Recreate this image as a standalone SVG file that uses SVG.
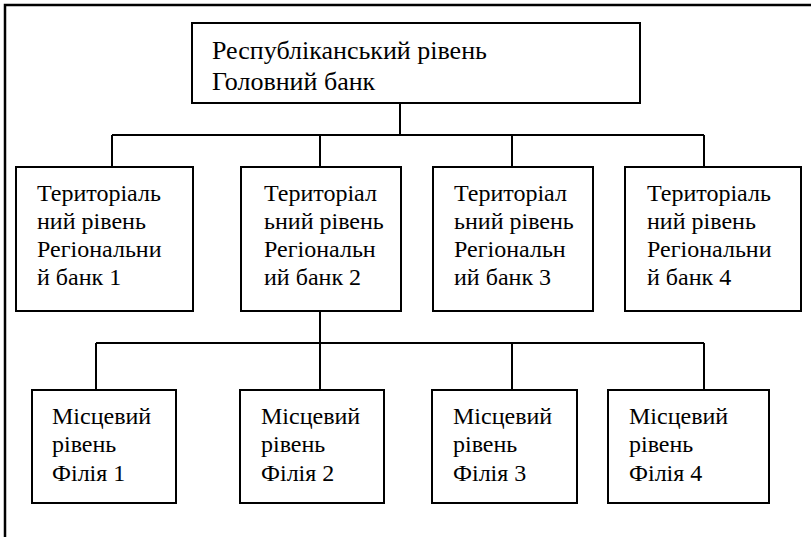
<svg xmlns="http://www.w3.org/2000/svg" width="811" height="537" viewBox="0 0 811 537">
  <style>
    .box { fill: #fff; stroke: #000; stroke-width: 2; }
    .frame { fill: none; stroke: #000; stroke-width: 2.5; }
    .link { fill: none; stroke: #000; stroke-width: 2; }
    text { font-family: "Liberation Serif", "Times New Roman", serif; font-size: 24px; fill: #000; }
    .top { font-size: 26px; }
  </style>
  <rect width="811" height="537" fill="#fff"/>
  <!-- open frame: top and left edges only -->
  <path class="frame" d="M5,537 V5 H811"/>

  <g id="connectors">
    <path class="link" d="M400,103 V135 M112,135 H704 M112,135 V167 M320,135 V167 M512,135 V167 M704,135 V167"/>
    <path class="link" d="M320,311 V390 M96,343 H704 M96,343 V390 M512,343 V390 M704,343 V390"/>
  </g>

  <g id="head-bank">
    <rect class="box" x="192" y="23" width="448" height="80"/>
    <text class="top" x="212" y="59">Республіканський рівень</text>
    <text class="top" x="212" y="90">Головний банк</text>
  </g>

  <g id="regional-1">
    <rect class="box" x="16" y="167" width="177" height="144"/>
    <text x="37" y="201">Територіаль</text>
    <text x="37" y="229">ний рівень</text>
    <text x="37" y="257">Регіональни</text>
    <text x="37" y="285">й банк 1</text>
  </g>
  <g id="regional-2">
    <rect class="box" x="241" y="167" width="160" height="144"/>
    <text x="264" y="201">Територіал</text>
    <text x="264" y="229">ьний рівень</text>
    <text x="264" y="257">Регіональн</text>
    <text x="264" y="285">ий банк 2</text>
  </g>
  <g id="regional-3">
    <rect class="box" x="433" y="167" width="160" height="144"/>
    <text x="454" y="201">Територіал</text>
    <text x="454" y="229">ьний рівень</text>
    <text x="454" y="257">Регіональн</text>
    <text x="454" y="285">ий банк 3</text>
  </g>
  <g id="regional-4">
    <rect class="box" x="625" y="167" width="176" height="144"/>
    <text x="647" y="201">Територіаль</text>
    <text x="647" y="229">ний рівень</text>
    <text x="647" y="257">Регіональни</text>
    <text x="647" y="285">й банк 4</text>
  </g>

  <g id="branch-1">
    <rect class="box" x="32" y="390" width="144" height="113"/>
    <text x="52" y="424">Місцевий</text>
    <text x="52" y="452">рівень</text>
    <text x="52" y="481">Філія 1</text>
  </g>
  <g id="branch-2">
    <rect class="box" x="240" y="390" width="144" height="113"/>
    <text x="261" y="424">Місцевий</text>
    <text x="261" y="452">рівень</text>
    <text x="261" y="481">Філія 2</text>
  </g>
  <g id="branch-3">
    <rect class="box" x="432" y="390" width="145" height="113"/>
    <text x="453" y="424">Місцевий</text>
    <text x="453" y="452">рівень</text>
    <text x="453" y="481">Філія 3</text>
  </g>
  <g id="branch-4">
    <rect class="box" x="608" y="390" width="161" height="113"/>
    <text x="629" y="424">Місцевий</text>
    <text x="629" y="452">рівень</text>
    <text x="629" y="481">Філія 4</text>
  </g>
</svg>
